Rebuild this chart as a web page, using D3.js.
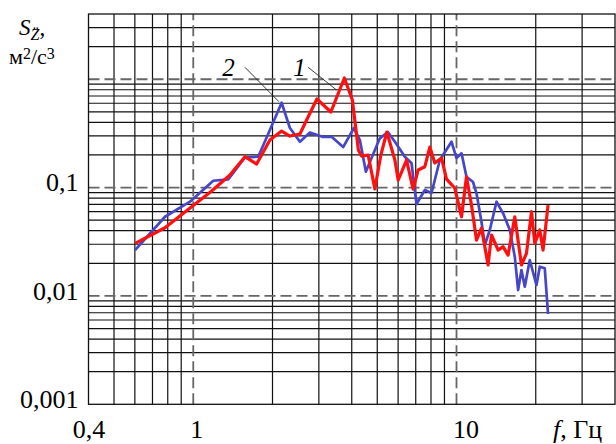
<!DOCTYPE html>
<html>
<head>
<meta charset="utf-8">
<script src="https://cdn.jsdelivr.net/npm/d3@7/dist/d3.min.js"></script>
<style>
  body { margin: 0; background: #fff; }
  svg text { font-family: "Liberation Serif", "Times New Roman", serif; fill: #000; }
</style>
</head>
<body>
<div id="chart"></div>
<script>
// Curve 1 (red): frequency, Hz and spectral density
const redF = [0.602, 0.781, 0.986, 1.175, 1.378, 1.572, 1.741, 1.955, 2.166, 2.329,
  2.542, 2.733, 2.949, 3.333, 3.750, 4.022, 4.239, 4.359, 4.617, 4.896,
  5.159, 5.437, 5.833, 6.003, 6.460, 6.843, 7.149, 7.581, 7.918, 8.273,
  8.773, 9.163, 9.851, 10.45, 10.91, 11.40, 11.91, 12.44, 13.18, 13.58,
  14.39, 15.03, 15.70, 16.65, 17.65, 18.44, 19.27, 19.83, 20.72, 21.32, 22.27];
const redS = [0.0306, 0.0426, 0.0666, 0.0930, 0.1306, 0.1927, 0.1650, 0.2748, 0.3326, 0.2990,
  0.3121, 0.4508, 0.6567, 0.4981, 1.026, 0.6428, 0.2222, 0.1955, 0.1997, 0.0970,
  0.1997, 0.3257, 0.1796, 0.1174, 0.1796, 0.0970, 0.1452, 0.1558, 0.2367, 0.1685,
  0.1874, 0.1199, 0.0991, 0.0538, 0.1259, 0.0690, 0.0328, 0.0423, 0.0193, 0.0365,
  0.0265, 0.0285, 0.0238, 0.0538, 0.0193, 0.0247, 0.0599, 0.0306, 0.0406, 0.0265, 0.0690];

// Curve 2 (blue)
const blueF = [0.601, 0.781, 0.972, 1.191, 1.358, 1.572, 1.765, 1.955, 2.166, 2.329,
  2.542, 2.774, 3.115, 3.353, 3.711, 4.075, 4.295, 4.526, 4.757, 5.114,
  5.485, 5.833, 6.364, 6.749, 7.049, 7.581, 8.037, 8.643, 9.572, 10.0,
  10.45, 10.91, 11.56, 11.91, 12.44, 12.81, 13.38, 14.19, 15.03, 15.94,
  16.65, 17.14, 17.65, 18.17, 18.98, 20.13, 20.72, 21.64, 22.27];
const blueS = [0.0265, 0.0538, 0.0741, 0.1157, 0.1192, 0.1902, 0.1927, 0.3398, 0.6069, 0.3545,
  0.2650, 0.3222, 0.2929, 0.2947, 0.2367, 0.3545, 0.2748, 0.1401, 0.1874, 0.2849,
  0.3257, 0.2650, 0.1927, 0.1675, 0.0705, 0.0949, 0.0891, 0.1796, 0.2650, 0.1874,
  0.2071, 0.1259, 0.1125, 0.0885, 0.0484, 0.0295, 0.0406, 0.0741, 0.0579, 0.0406,
  0.0230, 0.01134, 0.01735, 0.01217, 0.02146, 0.01261, 0.01861, 0.01799, 0.00681];

// Axes
const xTickValues = [0.4, 1, 10];
const xTickLabels = ["0,4", "1", "10"];
const yTickValues = [0.001, 0.01, 0.1];
const yTickLabels = ["0,001", "0,01", "0,1"];
const xMinor = [0.5, 0.6, 0.7, 0.8, 0.9, 2, 3, 4, 5, 6, 7, 8, 9, 20, 30];
const xDecades = [1, 10];
const yMinor = [0.002, 0.003, 0.004, 0.005, 0.006, 0.007, 0.008, 0.009,
  0.02, 0.03, 0.04, 0.05, 0.06, 0.07, 0.08, 0.09,
  0.2, 0.3, 0.4, 0.5, 0.6, 0.7, 0.8, 0.9, 2, 3];
const yDecades = [0.01, 0.1, 1];

const width = 616, height = 444;
const margin = {top: 14, right: 1, bottom: 39.7, left: 88.5};

const svg = d3.select("#chart").append("svg")
  .attr("width", width)
  .attr("height", height);

const x = d3.scaleLog()
  .domain([0.4, 40])
  .range([margin.left, width - margin.right]);

const y = d3.scaleLog()
  .domain([0.001, 4])
  .range([height - margin.bottom, margin.top]);

const [x0, x1] = x.range();
const [y0, y1] = y.range();

// grid
const grid = svg.append("g");
grid.selectAll(".vx").data(xMinor).join("line")
  .attr("x1", d => x(d)).attr("x2", d => x(d))
  .attr("y1", y0).attr("y2", y1)
  .attr("stroke", "#111").attr("stroke-width", 1.2);
grid.selectAll(".hy").data(yMinor).join("line")
  .attr("x1", x0).attr("x2", x1)
  .attr("y1", d => y(d)).attr("y2", d => y(d))
  .attr("stroke", "#111").attr("stroke-width", 1.2);
grid.selectAll(".dx").data(xDecades).join("line")
  .attr("x1", d => x(d)).attr("x2", d => x(d))
  .attr("y1", y0).attr("y2", y1)
  .attr("stroke", "#666").attr("stroke-width", 1.8)
  .attr("stroke-dasharray", "11,5");
grid.selectAll(".dy").data(yDecades).join("line")
  .attr("x1", x0).attr("x2", x1)
  .attr("y1", d => y(d)).attr("y2", d => y(d))
  .attr("stroke", "#666").attr("stroke-width", 1.8)
  .attr("stroke-dasharray", "11,5");

// frame
svg.append("rect")
  .attr("x", x0).attr("y", y1)
  .attr("width", x1 - x0).attr("height", y0 - y1)
  .attr("fill", "none").attr("stroke", "#111").attr("stroke-width", 1.3);

// axes (labels only)
const xAxis = svg.append("g")
  .attr("transform", `translate(0,${y0})`)
  .call(d3.axisBottom(x).tickValues(xTickValues)
    .tickFormat((d, i) => xTickLabels[i]).tickSize(0).tickPadding(15));
const yAxis = svg.append("g")
  .attr("transform", `translate(${x0},0)`)
  .call(d3.axisLeft(y).tickValues(yTickValues)
    .tickFormat((d, i) => yTickLabels[i]).tickSize(0).tickPadding(10));
[xAxis, yAxis].forEach(a => {
  a.select(".domain").remove();
  a.selectAll("text")
    .attr("font-size", 26)
    .attr("fill", "#000");
});
yAxis.selectAll("text").attr("dy", "0.12em");
xAxis.selectAll("text").attr("dx", (d, i) => [0, 3, 9][i]);

// curves
const line = d3.line().x(d => x(d[0])).y(d => y(d[1]));
svg.append("path")
  .datum(d3.zip(blueF, blueS))
  .attr("d", line)
  .attr("fill", "none").attr("stroke", "#4646c8")
  .attr("stroke-width", 2.7).attr("stroke-linejoin", "round");
svg.append("path")
  .datum(d3.zip(redF, redS))
  .attr("d", line)
  .attr("fill", "none").attr("stroke", "#ff1010")
  .attr("stroke-width", 3.2).attr("stroke-linejoin", "round");

// curve labels with leaders
const notes = [
  {txt: "2", tf: 1.29, ts: 1.07, from: [1.572, 1.288], to: [2.116, 0.62]},
  {txt: "1", tf: 2.40, ts: 1.07, from: [2.733, 1.288], to: [3.503, 0.795]}
];
notes.forEach(n => {
  svg.append("line")
    .attr("x1", x(n.from[0])).attr("y1", y(n.from[1]))
    .attr("x2", x(n.to[0])).attr("y2", y(n.to[1]))
    .attr("stroke", "#222").attr("stroke-width", 0.9);
  svg.append("text")
    .attr("x", x(n.tf)).attr("y", y(n.ts))
    .attr("font-size", 25).attr("font-style", "italic")
    .text(n.txt);
});

// axis titles
const yt = svg.append("text").attr("x", 19).attr("y", 35).attr("font-size", 23);
yt.append("tspan").attr("font-style", "italic").text("S");
yt.append("tspan").attr("font-style", "italic").attr("font-size", 16).attr("dy", 5).text("Z\u0308");
yt.append("tspan").attr("dy", -5).text(",");

const yu = svg.append("text").attr("x", 9).attr("y", 64).attr("font-size", 22);
yu.append("tspan").text("м");
yu.append("tspan").attr("font-size", 16).attr("dy", -5).text("2");
yu.append("tspan").attr("dy", 5).text("/с");
yu.append("tspan").attr("font-size", 16).attr("dy", -5).text("3");

const xt = svg.append("text").attr("x", 553).attr("y", 438).attr("font-size", 26);
xt.append("tspan").attr("font-style", "italic").text("f");
xt.append("tspan").text(", Гц");
</script>
</body>
</html>
